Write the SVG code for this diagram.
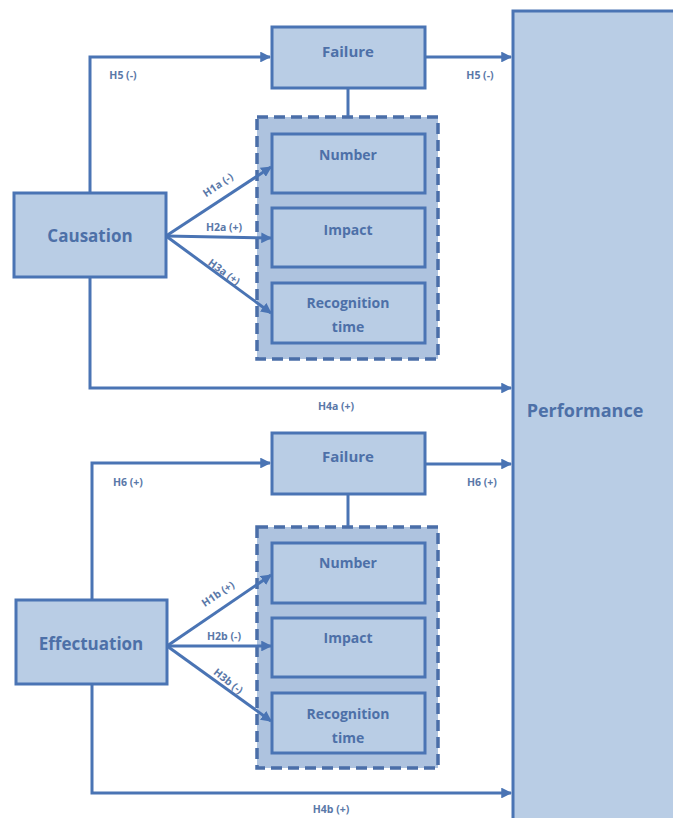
<svg xmlns="http://www.w3.org/2000/svg" width="673" height="818" viewBox="0 0 673 818">
<defs>
<marker id="ah" viewBox="0 0 10 10" refX="9" refY="5" markerWidth="3.6" markerHeight="3.6" orient="auto" markerUnits="strokeWidth">
<path d="M0,0 L10,5 L0,10 z" fill="#4a74b4"/>
</marker>
</defs>
<style>
.box{fill:#b9cde5;stroke:#4a74b4;stroke-width:3}
.grp{fill:#aec3df;stroke:#4a6ea8;stroke-width:3.5;stroke-dasharray:11 6}
.ln{fill:none;stroke:#4a74b4;stroke-width:3}
.arr{fill:none;stroke:#4a74b4;stroke-width:3;marker-end:url(#ah)}
.t{font-family:"Open Sans","Liberation Sans",sans-serif;font-weight:bold;fill:#4d70a8;text-anchor:middle}
.big{font-size:17px}
.perf{font-size:18px}
.mid{font-size:15px}
.sm{font-size:14px}
.lab{font-family:"Open Sans","Liberation Sans",sans-serif;font-weight:bold;fill:#5a78a8;font-size:10.5px;text-anchor:middle}
</style>
<rect width="673" height="818" fill="#ffffff"/>

<g id="performance">
<rect class="box" x="513" y="11" width="200" height="850"/>
<text class="t perf" x="585" y="417">Performance</text>
</g>

<g id="causation">
<rect class="box" x="14" y="193" width="152" height="84"/>
<text class="t big" x="90" y="242">Causation</text>
</g>
<g id="failure-top">
<rect class="box" x="272" y="27" width="153" height="61"/>
<text class="t mid" x="348" y="57">Failure</text>
</g>
<g id="group-top">
<rect class="grp" x="257" y="117" width="181" height="242"/>
</g>
<g id="number-top">
<rect class="box" x="272" y="134" width="153" height="59"/>
<text class="t sm" x="348" y="160">Number</text>
</g>
<g id="impact-top">
<rect class="box" x="272" y="208" width="153" height="59"/>
<text class="t sm" x="348" y="235">Impact</text>
</g>
<g id="recognition-top">
<rect class="box" x="272" y="283" width="153" height="60"/>
<text class="t sm" x="348" y="308">Recognition</text>
<text class="t sm" x="348" y="332">time</text>
</g>

<g id="effectuation">
<rect class="box" x="16" y="600" width="151" height="84"/>
<text class="t big" x="91" y="650">Effectuation</text>
</g>
<g id="failure-bottom">
<rect class="box" x="272" y="433" width="153" height="61"/>
<text class="t mid" x="348" y="462">Failure</text>
</g>
<g id="group-bottom">
<rect class="grp" x="257" y="527" width="181" height="241"/>
</g>
<g id="number-bottom">
<rect class="box" x="272" y="543" width="153" height="60"/>
<text class="t sm" x="348" y="568">Number</text>
</g>
<g id="impact-bottom">
<rect class="box" x="272" y="618" width="153" height="59"/>
<text class="t sm" x="348" y="643">Impact</text>
</g>
<g id="recognition-bottom">
<rect class="box" x="272" y="693" width="153" height="60"/>
<text class="t sm" x="348" y="719">Recognition</text>
<text class="t sm" x="348" y="743">time</text>
</g>

<g id="connectors">
<!-- top -->
<polyline class="arr" points="90,193 90,57 270,57"/>
<line class="arr" x1="425" y1="57" x2="511" y2="57"/>
<line class="ln" x1="348" y1="89" x2="348" y2="116"/>
<polyline class="arr" points="90,277 90,388 511,388"/>
<line class="arr" x1="166" y1="236" x2="271" y2="167"/>
<line class="arr" x1="166" y1="236" x2="271" y2="238"/>
<line class="arr" x1="166" y1="236" x2="271" y2="313"/>
<!-- bottom -->
<polyline class="arr" points="92,600 92,463 270,463"/>
<line class="arr" x1="425" y1="464" x2="511" y2="464"/>
<line class="ln" x1="348" y1="495" x2="348" y2="526"/>
<polyline class="arr" points="92,684 92,793 511,793"/>
<line class="arr" x1="167" y1="646" x2="271" y2="575"/>
<line class="arr" x1="167" y1="646" x2="271" y2="646"/>
<line class="arr" x1="167" y1="646" x2="271" y2="721"/>
</g>

<g id="labels">
<text class="lab" x="123" y="79">H5 (-)</text>
<text class="lab" x="480" y="79">H5 (-)</text>
<text class="lab" transform="translate(220,188) rotate(-34)">H1a (-)</text>
<text class="lab" x="224" y="231">H2a (+)</text>
<text class="lab" transform="translate(222,275) rotate(36)">H3a (+)</text>
<text class="lab" x="336" y="410">H4a (+)</text>
<text class="lab" x="128" y="486">H6 (+)</text>
<text class="lab" x="482" y="486">H6 (+)</text>
<text class="lab" transform="translate(220,597) rotate(-34)">H1b (+)</text>
<text class="lab" x="224" y="640">H2b (-)</text>
<text class="lab" transform="translate(226,684) rotate(38)">H3b (-)</text>
<text class="lab" x="331" y="813">H4b (+)</text>
</g>
</svg>
